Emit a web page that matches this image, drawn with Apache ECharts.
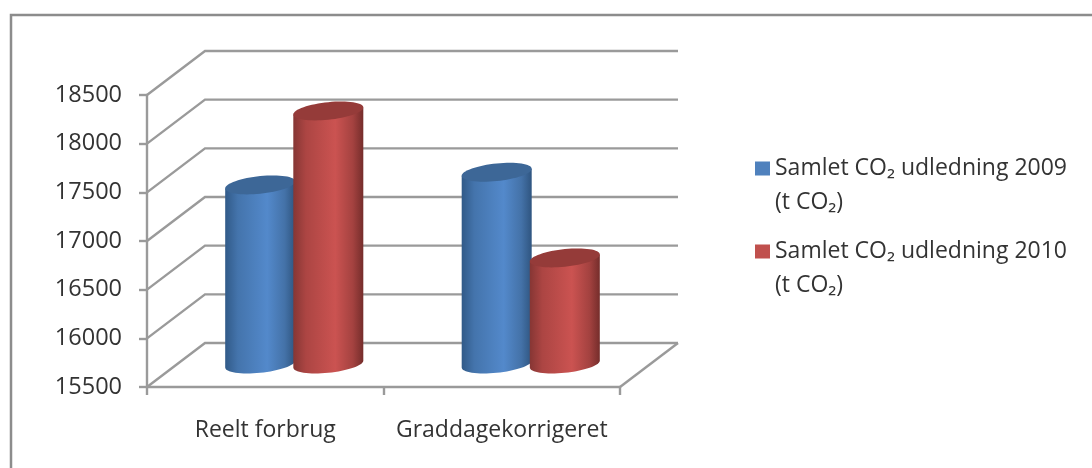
<!DOCTYPE html>
<html><head><meta charset="utf-8">
<style>html,body{margin:0;padding:0;background:#fff}#c{width:1092px;height:468px}</style>
<script src="https://cdn.jsdelivr.net/npm/echarts@6/dist/echarts.min.js"></script>
</head><body><div id="c"></div>
<script>
const categories = ['Reelt forbrug', 'Graddagekorrigeret'];
const values2009 = [17340, 17470];
const values2010 = [18100, 16590];
const name2009 = 'Samlet CO₂ udledning 2009\n(t CO₂)';
const name2010 = 'Samlet CO₂ udledning 2010\n(t CO₂)';
const gridTicks = [15500, 16000, 16500, 17000, 17500, 18000, 18500];

const FONT = 'Open Sans';
const GRID = '#9a9a9a';
const DX = 58, DY = -44;          // wall depth in pixels
const MX = 29, MY = -23;          // cylinders stand half way back

const chart = echarts.init(document.getElementById('c'), null, {renderer: 'canvas'});

function wallItem(params, api) {
  const cs = params.coordSys;
  const v = api.value(0);
  const y = api.coord([0, v])[1];
  const x0 = cs.x, x1 = cs.x + cs.width;
  const children = [{
    type: 'polyline',
    shape: {points: [[x0, y], [x0 + DX, y + DY], [x1 + DX, y + DY]]},
    style: {stroke: GRID, lineWidth: 2.4, fill: null}
  }];
  if (params.dataIndex === 0) {
    children.push({
      type: 'polyline',
      shape: {points: [[x1, y], [x1 + DX, y + DY]]},
      style: {stroke: GRID, lineWidth: 2.4, fill: null}
    });
  }
  return {type: 'group', children};
}

function cylinder(side, stops, topColor) {
  return function (params, api) {
    const idx = api.value(0), val = api.value(1);
    const band = api.size([1, 0])[0];
    const rx = band * 0.148, ry = 8.8, shear = 3.5;
    const top = api.coord([idx, val]), base = api.coord([idx, gridTicks[0]]);
    const cx = top[0] + MX + side * band * 0.144;
    const ty = top[1] + MY, by = base[1] + MY;
    const pt = (t, cy) => [cx + rx * Math.cos(t), cy + ry * Math.sin(t) - shear * Math.cos(t)];
    const body = [pt(Math.PI, ty)];
    for (let i = 0; i <= 32; i++) body.push(pt(Math.PI - Math.PI * i / 32, by));
    body.push(pt(0, ty));
    const cap = [];
    for (let i = 0; i < 64; i++) cap.push(pt(2 * Math.PI * i / 64, ty));
    return {type: 'group', children: [
      {type: 'polygon', shape: {points: body},
       style: {fill: new echarts.graphic.LinearGradient(0, 0, 1, 0, stops)}},
      {type: 'polygon', shape: {points: cap}, style: {fill: topColor}}
    ]};
  };
}

const blueStops = [
  {offset: 0, color: '#315a88'}, {offset: 0.18, color: '#4474ac'},
  {offset: 0.6, color: '#5389cb'}, {offset: 0.85, color: '#4472a8'}, {offset: 1, color: '#2f5580'}];
const redStops = [
  {offset: 0, color: '#863634'}, {offset: 0.18, color: '#ac4543'},
  {offset: 0.6, color: '#cb5351'}, {offset: 0.85, color: '#a44240'}, {offset: 1, color: '#752d2b'}];

chart.setOption({
  animation: false,
  backgroundColor: '#fff',
  textStyle: {fontFamily: FONT},
  graphic: [{
    type: 'polyline', silent: true,
    shape: {points: [[11, 468], [11, 15], [1092, 15]]},
    style: {stroke: '#8c8c8c', lineWidth: 2.5, fill: null}
  }],
  grid: {left: 147, top: 95, width: 473, height: 292},
  xAxis: {
    type: 'category', data: categories,
    axisLine: {lineStyle: {color: GRID, width: 2.4}},
    axisTick: {show: true, interval: 0, length: 8, lineStyle: {color: GRID, width: 2.4}},
    axisLabel: {color: '#333', fontSize: 23, margin: 32, interval: 0, hideOverlap: false, fontFamily: FONT}
  },
  yAxis: {
    type: 'value', min: 15500, max: 18500, interval: 500,
    axisLine: {show: true, lineStyle: {color: GRID, width: 2.4}},
    axisTick: {show: true, length: 8, lineStyle: {color: GRID, width: 2.4}},
    axisLabel: {color: '#333', fontSize: 23.5, margin: 25, fontFamily: FONT, padding: [2, 0, 0, 0],
                formatter: v => String(v)},
    splitLine: {show: false}
  },
  legend: {
    orient: 'vertical', left: 750, top: 146, itemGap: 15,
    data: [name2009, name2010],
    icon: 'path://M0 0L15 0L15 14L0 14Z M0 47L15 47L15 47L0 47Z',
    itemWidth: 15, itemHeight: 47,
    textStyle: {color: '#333', fontSize: 23, lineHeight: 34, fontFamily: FONT}
  },
  series: [
    {type: 'custom', silent: true, coordinateSystem: 'cartesian2d', renderItem: wallItem, clip: false,
     encode: {y: 0}, data: gridTicks.map(v => [v])},
    {type: 'custom', name: name2009, renderItem: cylinder(-1, blueStops, '#3d6797'), clip: false,
     itemStyle: {color: '#4f81bd'}, encode: {x: 0, y: 1},
     data: values2009.map((v, i) => [i, v])},
    {type: 'custom', name: name2010, renderItem: cylinder(1, redStops, '#953b39'), clip: false,
     itemStyle: {color: '#c0504d'}, encode: {x: 0, y: 1},
     data: values2010.map((v, i) => [i, v])}
  ]
});
</script></body></html>
